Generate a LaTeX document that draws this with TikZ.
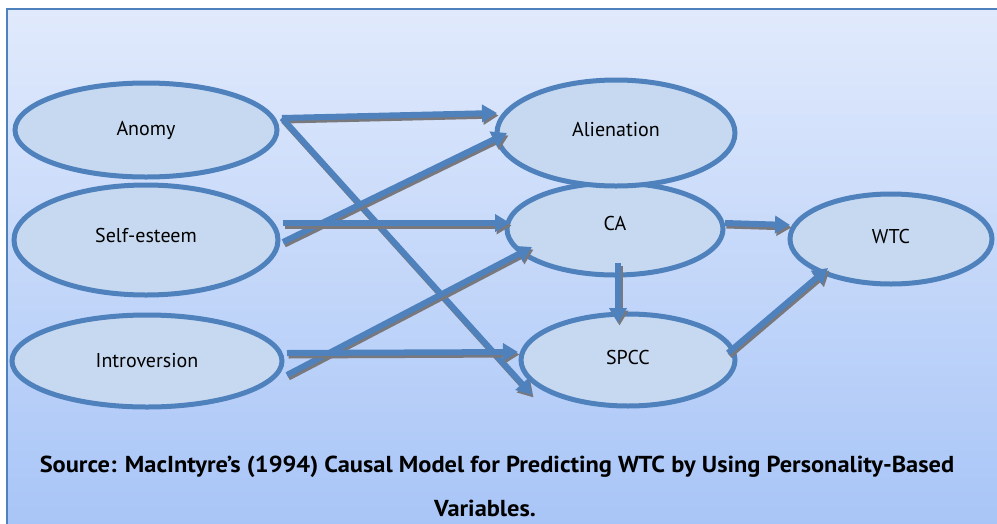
\documentclass[tikz,border=0pt]{standalone}
\usepackage{fontspec}
\setmainfont{PT Sans}
\usetikzlibrary{shapes.geometric,arrows.meta,calc}
\definecolor{bgtop}{RGB}{225,234,252}
\definecolor{bgbot}{RGB}{168,197,247}
\definecolor{ellfill}{RGB}{198,217,240}
\definecolor{ellline}{RGB}{79,129,189}
\definecolor{shadowc}{RGB}{120,120,125}
\tikzset{
  ell/.style={ellipse, draw=ellline, fill=ellfill, line width=5pt, inner sep=0pt, outer sep=0pt,
    font=\fontsize{20}{24}\selectfont, text=black},
  arr/.style={draw=ellline, line width=6pt, -{Triangle[length=15pt,width=17pt]},
    preaction={draw=shadowc, line width=6pt, -{Triangle[length=15pt,width=17pt]},
      transform canvas={shift={(1.5pt,-2.5pt)}}}},
  captext/.style={font=\fontsize{22}{26}\selectfont\bfseries, text=black, inner sep=0pt, anchor=base}
}
\begin{document}
\begin{tikzpicture}[x=1pt,y=-1pt]
\useasboundingbox (0,0) rectangle (997,523);
\fill[top color=bgtop, bottom color=bgbot] (7,9) rectangle (1000,526);
\draw[ellline, line width=2pt] (7,526) -- (7,9) -- (1000,9);
% ellipses
\node[ell, minimum width=262, minimum height=94] (anomy) at (146,130) {\raisebox{4pt}{Anomy}};
\node[ell, minimum width=264, minimum height=110] (self) at (146,240) {\raisebox{10pt}{Self-esteem}};
\node[ell, minimum width=270, minimum height=92] (intro) at (147,361) {\raisebox{1pt}{Introversion}};
\node[ell, minimum width=216, minimum height=92] (ca) at (615,229) {\raisebox{11pt}{CA}};
\node[ell, minimum width=238, minimum height=106] (alien) at (616,133) {\raisebox{8pt}{Alienation}};
\node[ell, minimum width=214, minimum height=92] (spcc) at (628,360) {\raisebox{5pt}{SPCC}};
\node[ell, minimum width=202, minimum height=90] (wtc) at (891,239) {\raisebox{6pt}{WTC}};
% arrows
\draw[arr] ($(anomy.east)+(5,-12)$) -- ($(alien.west)+(0,-20)$);
\draw[arr] ($(anomy.east)+(5,-12)$) -- ($(spcc.west)+(11,35)$);
\draw[arr] ($(self.east)+(5,2)$) -- ($(alien.west)+(10,0)$);
\draw[arr] ($(self.east)+(5,-17)$) -- ($(ca.west)+(3,-6)$);
\draw[arr] ($(intro.east)+(5,14)$) -- ($(ca.west)+(25,18)$);
\draw[arr] ($(intro.east)+(5,-8)$) -- ($(spcc.west)+(-3,-8)$);
\draw[arr] ($(ca.east)+(2,-6)$) -- ($(wtc.west)+(0,-14)$);
\draw[arr] ($(ca.south)+(3,-12)$) -- ($(spcc.north)+(-10,9)$);
\draw[arr] ($(spcc.east)+(-7,-7)$) -- ($(wtc.south)+(-63,-16)$);
% caption
\node[captext] (cap1) at (497,472) {\scalebox{1.11}[1.05]{Source: MacIntyre’s (1994) Causal Model for Predicting WTC by Using Personality-Based}};
\node[captext] (cap2) at (485,516) {\scalebox{1.11}[1.05]{Variables.}};
\end{tikzpicture}
\end{document}
